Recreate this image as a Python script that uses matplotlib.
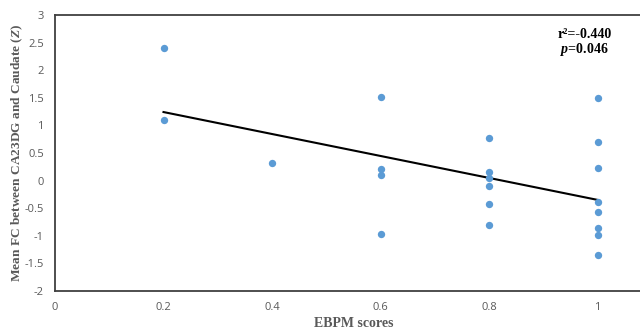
import numpy as np
import matplotlib.pyplot as plt

plt.rcParams['mathtext.fontset'] = 'custom'
plt.rcParams['mathtext.bfit'] = 'Liberation Serif:italic:bold'
plt.rcParams['mathtext.it'] = 'Liberation Serif:italic'

# EBPM scores vs mean FC (Z)
ebpm = [0.2, 0.2, 0.4,
        0.6, 0.6, 0.6, 0.6,
        0.8, 0.8, 0.8, 0.8, 0.8, 0.8,
        1.0, 1.0, 1.0, 1.0, 1.0, 1.0, 1.0, 1.0]
fc = [2.40, 1.10, 0.32,
      1.51, 0.21, 0.11, -0.96,
      0.77, 0.15, 0.05, -0.10, -0.43, -0.81,
      1.50, 0.70, 0.23, -0.39, -0.57, -0.86, -0.98, -1.34]

x_ticks = [0, 0.2, 0.4, 0.6, 0.8, 1]
y_ticks = [-2, -1.5, -1, -0.5, 0, 0.5, 1, 1.5, 2, 2.5, 3]

fig = plt.figure(figsize=(6.4, 3.31), dpi=100)
ax = fig.add_axes([55/640, 40/331, 585/640, 276/331])

ax.scatter(ebpm, fc, s=28, color='#5B9BD5', zorder=3, linewidths=0)

# linear trendline
slope, icpt = np.polyfit(ebpm, fc, 1)
xl = np.array([min(ebpm), max(ebpm)])
ax.plot(xl, slope*xl + icpt, color='black', lw=1.5, zorder=2)

ax.set_xlim(0, 585/542.5)
ax.set_ylim(-2, 3)
ax.set_xticks(x_ticks)
ax.set_xticklabels(['0', '0.2', '0.4', '0.6', '0.8', '1'])
ax.set_yticks(y_ticks)
ax.set_yticklabels(['-2', '-1.5', '-1', '-0.5', '0', '0.5', '1', '1.5', '2', '2.5', '3'])
ax.tick_params(length=0, labelsize=8, labelcolor='#595959')
ax.tick_params(axis='y', pad=8)
ax.tick_params(axis='x', pad=8)
for lab in ax.get_xticklabels() + ax.get_yticklabels():
    lab.set_fontfamily('Open Sans')

for s in ['left', 'bottom', 'top']:
    ax.spines[s].set_color('#404040')
    ax.spines[s].set_linewidth(1.3)
ax.spines['right'].set_visible(False)

ax.set_xlabel('EBPM scores', fontfamily='Liberation Serif', fontweight='bold',
              fontsize=10, color='#595959', va='center')
ax.set_ylabel('Mean FC between CA23DG and Caudate ($\\mathbfit{Z}$)',
              fontfamily='Liberation Serif', fontweight='bold',
              fontsize=9.6, color='#595959', va='center')
ax.xaxis.set_label_coords(0.511, -0.118)
ax.yaxis.set_label_coords(-0.065, 0.5)

ax.text(0.905, 0.93, 'r²=-0.440', transform=ax.transAxes, ha='center', va='center',
        fontfamily='Liberation Serif', fontweight='bold', fontsize=10)
ax.text(0.905, 0.875, '$\\mathbfit{p}$=0.046', transform=ax.transAxes, ha='center',
        va='center', fontfamily='Liberation Serif', fontweight='bold', fontsize=10)

fig.savefig('out.png', dpi=100)
